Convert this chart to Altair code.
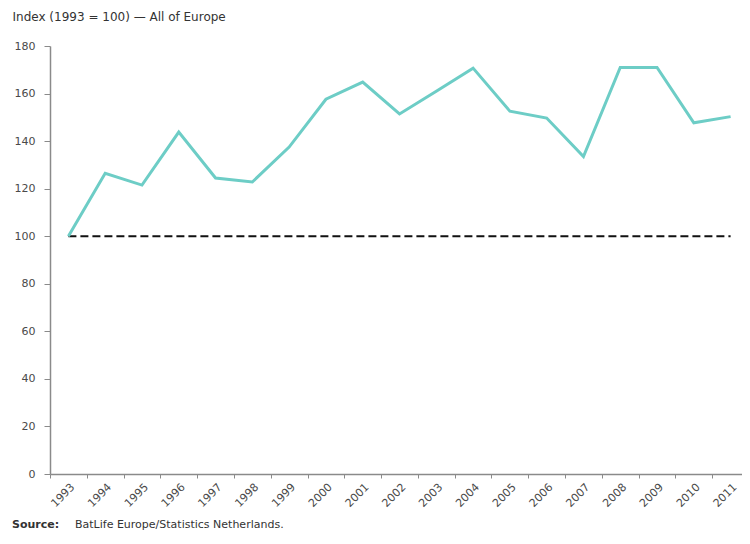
import altair as alt
import pandas as pd

years = [str(y) for y in range(1993, 2012)]
index_values = [100, 126.5, 121.5, 143.8, 124.5, 122.8, 137.5, 157.6, 164.8, 151.4,
                161.0, 170.7, 152.6, 149.7, 133.5, 171.0, 171.0, 147.7, 150.3]
baseline_values = [100] * len(years)
y_ticks = [0, 20, 40, 60, 80, 100, 120, 140, 160, 180]
title_text = "Index (1993 = 100) \u2014 All of Europe"
source_label = "Source:"
source_text = "BatLife Europe/Statistics Netherlands."

FONT = "DejaVu Sans"
AXIS_GREY = "#8a8a8a"
LABEL_GREY = "#4a4a4a"

df = pd.DataFrame({"year": years, "index": index_values, "base": baseline_values})

x_enc = alt.X(
    "year:O",
    bandPosition=0.5,
    scale=alt.Scale(type="band", paddingInner=0, paddingOuter=0, range=[0, 699]),
    axis=alt.Axis(
        title=None, labelAngle=-45, tickBand="extent", tickSize=4,
        domainColor=AXIS_GREY, tickColor=AXIS_GREY, domainWidth=1.5,
        labelFont=FONT, labelFontSize=11, labelColor=LABEL_GREY, labelPadding=3,
    ),
)

y_axis = alt.Axis(
    values=y_ticks, grid=False, title=title_text, titleAngle=0, titleAlign="left",
    titleX=-38, titleY=-26, titleBaseline="alphabetic", titleFontWeight="normal",
    titleFont=FONT, titleFontSize=12, titleColor="#333333",
    labelFont=FONT, labelFontSize=11, labelColor=LABEL_GREY, labelPadding=9,
    tickSize=6, domainColor=AXIS_GREY, tickColor=AXIS_GREY, domainWidth=1.5,
)

line = alt.Chart(df).mark_line(color="#6dcdc6", strokeWidth=3).encode(
    x=x_enc,
    y=alt.Y("index:Q", scale=alt.Scale(domain=[0, 180]), axis=y_axis),
)

base = alt.Chart(df).mark_line(color="#111111", strokeWidth=2, strokeDash=[8, 4]).encode(
    x=x_enc,
    y=alt.Y("base:Q"),
)

src_df = pd.DataFrame({"label": [source_label], "text": [source_text]})
src_label = alt.Chart(src_df).mark_text(
    align="left", baseline="alphabetic", font=FONT, fontSize=11, fontWeight="bold", color="#333333"
).encode(x=alt.value(-38), y=alt.value(482), text="label:N")
src_text = alt.Chart(src_df).mark_text(
    align="left", baseline="alphabetic", font=FONT, fontSize=11, color="#333333"
).encode(x=alt.value(25), y=alt.value(482), text="text:N")

chart = alt.layer(base, line, src_label, src_text).properties(
    width=692, height=428,
    autosize=alt.AutoSizeParams(type="none"),
    padding={"left": 42, "top": 38, "right": 0, "bottom": 56},
).configure_view(stroke=None)

chart.save("out.html", embed_options={"renderer": "svg", "actions": False})
